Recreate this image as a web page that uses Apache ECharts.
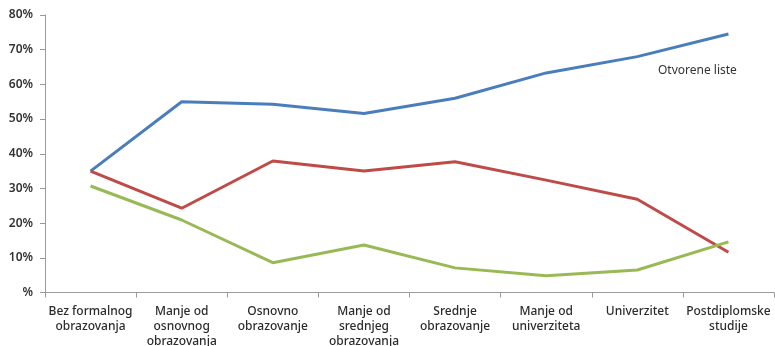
<!DOCTYPE html>
<html><head><meta charset="utf-8">
<script src="https://cdn.jsdelivr.net/npm/echarts@6/dist/echarts.min.js"></script>
<style>html,body{margin:0;padding:0;background:#fff}#c{width:775px;height:346px}</style>
</head><body><div id="c"></div>
<script>
const categories = ['Bez formalnog\nobrazovanja','Manje od\nosnovnog\nobrazovanja','Osnovno\nobrazovanje','Manje od\nsrednjeg\nobrazovanja','Srednje\nobrazovanje','Manje od\nuniverziteta','Univerzitet','Postdiplomske\nstudije'];
const blueValues = [35.0, 55.0, 54.3, 51.6, 56.0, 63.3, 68.0, 74.5];
const redValues = [35.0, 24.3, 37.9, 35.0, 37.7, 32.4, 26.9, 11.6];
const greenValues = [30.7, 20.9, 8.6, 13.7, 7.1, 4.8, 6.5, 14.6];
const yTicks = ['%','10%','20%','30%','40%','50%','60%','70%','80%'];
const annotation = 'Otvorene liste';

const chart = echarts.init(document.getElementById('c'));
const font = '"Noto Sans", sans-serif';
const mk = (data, color) => ({type:'line', data, symbol:'none', lineStyle:{width:3, color}, itemStyle:{color}, animation:false});
chart.setOption({
  animation:false,
  grid:{left:45, right:1, top:15, bottom:53.5, outerBoundsMode:'none', containLabel:false},
  xAxis:{type:'category', data:categories, boundaryGap:true,
    axisLine:{lineStyle:{color:'#9a9a9a', width:1}},
    axisTick:{show:true, length:5, lineStyle:{color:'#9a9a9a'}},
    axisLabel:{interval:0, color:'#2b2b2b', fontFamily:font, fontSize:12, fontWeight:500, lineHeight:15, margin:12}},
  yAxis:{type:'value', min:0, max:80, interval:10,
    axisLine:{show:true, lineStyle:{color:'#9a9a9a', width:1}},
    axisTick:{show:true, length:5, lineStyle:{color:'#9a9a9a'}},
    splitLine:{show:false},
    axisLabel:{color:'#333', fontFamily:font, fontSize:12, fontWeight:600, margin:12,
      formatter:(v)=>yTicks[Math.round(v/10)]}},
  series:[mk(blueValues,'#4a7ebb'), mk(redValues,'#be4b48'), mk(greenValues,'#98b954')],
  graphic:[{type:'text', left:658, top:65, style:{text:annotation, fill:'#333', font:'12px "Noto Sans", sans-serif'}}]
});
</script></body></html>
